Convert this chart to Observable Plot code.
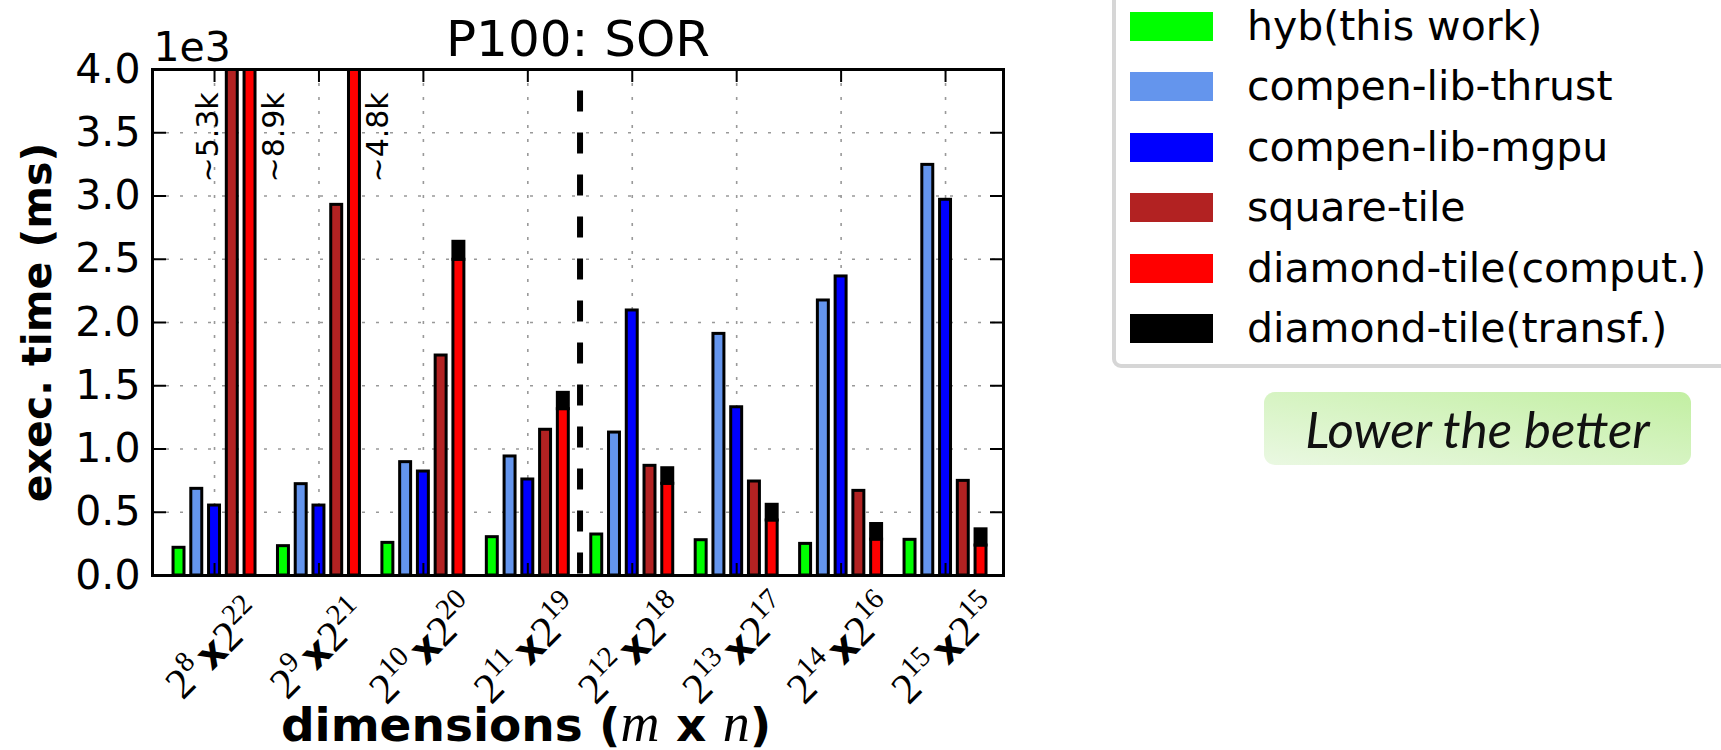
<!DOCTYPE html>
<html>
<head>
<meta charset="utf-8">
<script src="https://cdn.jsdelivr.net/npm/d3@7"></script>
<script src="https://cdn.jsdelivr.net/npm/@observablehq/plot@0.6"></script>
<style>
  html, body { margin: 0; padding: 0; background: #fff; }
  body { width: 1721px; height: 750px; overflow: hidden; position: relative; font-family: "DejaVu Sans", sans-serif; }
  #chart { position: absolute; left: 0; top: 0; }
  #legendBox { position: absolute; left: 1112px; top: -30px; width: 660px; height: 398px; box-sizing: border-box;
               border: 4px solid #d6d6d6; border-radius: 9px; background: #fff; }
  #legendItems { position: absolute; left: 1130px; top: -4.3px; }
  .row { display: flex; align-items: center; height: 60.6px; }
  .sw { width: 83px; height: 29px; flex: none; }
  .lab { margin-left: 34px; font-size: 41px; color: #000; white-space: nowrap; line-height: 1; }
  #note { position: absolute; left: 1264px; top: 392px; width: 427px; height: 73px; border-radius: 11px;
          background: linear-gradient(to top right, #eaf8e2, #c2efa2); display: flex; align-items: center; justify-content: center;
          font-family: Lato, "Open Sans", sans-serif; font-style: italic; font-size: 51px; color: #111; }
</style>
</head>
<body>
<div id="chart"></div>
<div id="legendBox"></div>
<div id="legendItems"></div>
<div id="note">Lower the better</div>
<script>
// ---- data (execution time in ms) ----
const mExp = [8, 9, 10, 11, 12, 13, 14, 15];
const nExp = [22, 21, 20, 19, 18, 17, 16, 15];
const series = ["hyb(this work)", "compen-lib-thrust", "compen-lib-mgpu", "square-tile", "diamond-tile(comput.)", "diamond-tile(transf.)"];
const colors = ["#00ff00", "#6495ed", "#0000ff", "#b22222", "#ff0000", "#000000"];
const hyb = [219, 232, 258, 303, 324, 279, 250, 282];
const thrust = [685, 722, 896, 941, 1130, 1910, 2174, 3246];
const mgpu = [553, 553, 822, 759, 2095, 1330, 2364, 2970];
const square = [5300, 2930, 1739, 1152, 867, 743, 669, 748];
const diamondComput = [8900, 4800, 2496, 1315, 725, 435, 284, 237];
const diamondTransf = [0, 0, 142, 129, 123, 124, 123, 128];
const yTicks = [0, 500, 1000, 1500, 2000, 2500, 3000, 3500, 4000];
const dividers = [3.5];
const dividerTop = 3830;
const annTop = 3820;
const title = "P100: SOR";
const yLabel = "exec. time (ms)";
const xLabel = "dimensions (m x n)";

// ---- layout ----
const yMax = 4000;
const barOffsets = [-0.34, -0.17, 0, 0.17, 0.34];
const barW = 0.105;
const xTicks = mExp.map((_, i) => i);

const valueSeries = [hyb, thrust, mgpu, square, diamondComput];
const rows = [];
valueSeries.forEach((vals, si) => vals.forEach((v, g) => rows.push({g, si, series: series[si], y1: 0, y2: v})));
diamondTransf.forEach((v, g) => { if (v > 0) rows.push({g, si: 4, series: series[5], y1: diamondComput[g], y2: diamondComput[g] + v}); });

// labels for bars that exceed the axis
const annSide = {3: -1, 4: 1};
const ann = [];
[[3, square], [4, diamondComput.map((c, i) => c + diamondTransf[i])]].forEach(([si, vals]) => {
  vals.forEach((v, g) => { if (v > yMax) ann.push({g, si, v, side: annSide[si]}); });
});

const gridStyle = {stroke: "#999", strokeOpacity: 1, strokeWidth: 1.6, strokeDasharray: "3,11"};

const svg = Plot.plot({
  width: 1721, height: 750,
  marginLeft: 152, marginRight: 718, marginTop: 69, marginBottom: 175,
  style: {fontFamily: "DejaVu Sans", fontSize: "41px", color: "black", background: "transparent", overflow: "visible"},
  x: {domain: [-0.594, 7.555]},
  y: {domain: [0, yMax]},
  color: {domain: series, range: colors},
  marks: [
    Plot.gridY(yTicks.filter(d => d > 0 && d < yMax), gridStyle),
    Plot.gridX(xTicks, gridStyle),
    Plot.rect(rows, {
      x1: d => d.g + barOffsets[d.si] - barW / 2,
      x2: d => d.g + barOffsets[d.si] + barW / 2,
      y1: "y1", y2: "y2", fill: "series", stroke: "black", strokeWidth: 3, clip: true
    }),
    Plot.ruleX(dividers, {x: d => d, y1: dividerTop, y2: 0, stroke: "black", strokeWidth: 6, strokeDasharray: "21,21"}),
    Plot.text(ann, {
      x: d => d.g + barOffsets[d.si] + d.side * 0.23, y: annTop,
      text: d => "~" + (d.v / 1000).toFixed(1) + "k",
      rotate: -90, textAnchor: "end", lineAnchor: "middle", fontSize: 30, fill: "black"
    }),
    Plot.axisY(yTicks, {anchor: "left", tickSize: -14, tickFormat: () => "", strokeWidth: 2, label: null}),
    Plot.axisY(yTicks, {anchor: "right", tickSize: -14, tickFormat: () => "", strokeWidth: 2, label: null}),
    Plot.axisX(xTicks, {anchor: "bottom", tickSize: -12, tickFormat: () => "", strokeWidth: 2, label: null}),
    Plot.axisX(xTicks, {anchor: "top", tickSize: -12, tickFormat: () => "", strokeWidth: 2, label: null}),
    Plot.axisY(yTicks, {anchor: "left", tickSize: 0, tickPadding: 12, tickFormat: d => (d / 1000).toFixed(1), fontSize: 41, label: null}),
    Plot.frame({stroke: "black", strokeWidth: 3}),
    Plot.text(xTicks, {
      x: d => d, frameAnchor: "bottom", dy: 74, text: d => `${mExp[d]}|${nExp[d]}`,
      rotate: -45, textAnchor: "middle", lineAnchor: "middle", fontSize: 43, fontFamily: "Liberation Serif", fill: "black"
    }),
    Plot.text([title], {text: d => d, frameAnchor: "top", dy: -14, lineAnchor: "bottom", fontSize: 50, fill: "black"}),
    Plot.text(["1e3"], {text: d => d, frameAnchor: "top-left", dx: 1, dy: -9, textAnchor: "start", lineAnchor: "bottom", fontSize: 41, fill: "black"}),
    Plot.text([yLabel], {text: d => d, frameAnchor: "left", dx: -115, rotate: -90, textAnchor: "middle", lineAnchor: "middle", fontSize: 41, fontWeight: "bold", fill: "black"}),
    Plot.text([xLabel], {text: d => d, frameAnchor: "bottom", dx: -52, dy: 165, textAnchor: "middle", lineAnchor: "bottom", fontSize: 47, fontWeight: "bold", fill: "black"})
  ]
});

document.getElementById("chart").appendChild(svg);

// rich text: tick labels 2^m x2^n and math-italic m, n in the x label
d3.select(svg).selectAll("text").each(function () {
  const s = this.textContent;
  const t = d3.select(this);
  const mt = /^(\d+)\|(\d+)$/.exec(s);
  if (mt) {
    t.text(null);
    t.append("tspan").text("2");
    t.append("tspan").attr("font-size", 29).attr("dy", -17).text(mt[1]);
    t.append("tspan").attr("font-family", "DejaVu Sans").attr("font-weight", "bold").attr("font-size", 40)
      .attr("dx", 5).attr("dy", 17).text("x");
    t.append("tspan").text("2");
    t.append("tspan").attr("font-size", 29).attr("dy", -17).text(mt[2]);
  } else if (s === xLabel) {
    t.text(null);
    s.split(/([mn])(?=[ )])/).forEach(p => {
      if (p === "m" || p === "n") {
        t.append("tspan").attr("font-family", "Liberation Serif").attr("font-style", "italic")
          .attr("font-weight", "normal").attr("font-size", 54).text(p);
      } else if (p) {
        t.append("tspan").text(p);
      }
    });
  }
});

// legend
const items = d3.select("#legendItems");
series.forEach((s, i) => {
  const r = items.append("div").attr("class", "row");
  r.append("div").attr("class", "sw").style("background", colors[i]);
  r.append("div").attr("class", "lab").text(s);
});
</script>
</body>
</html>
